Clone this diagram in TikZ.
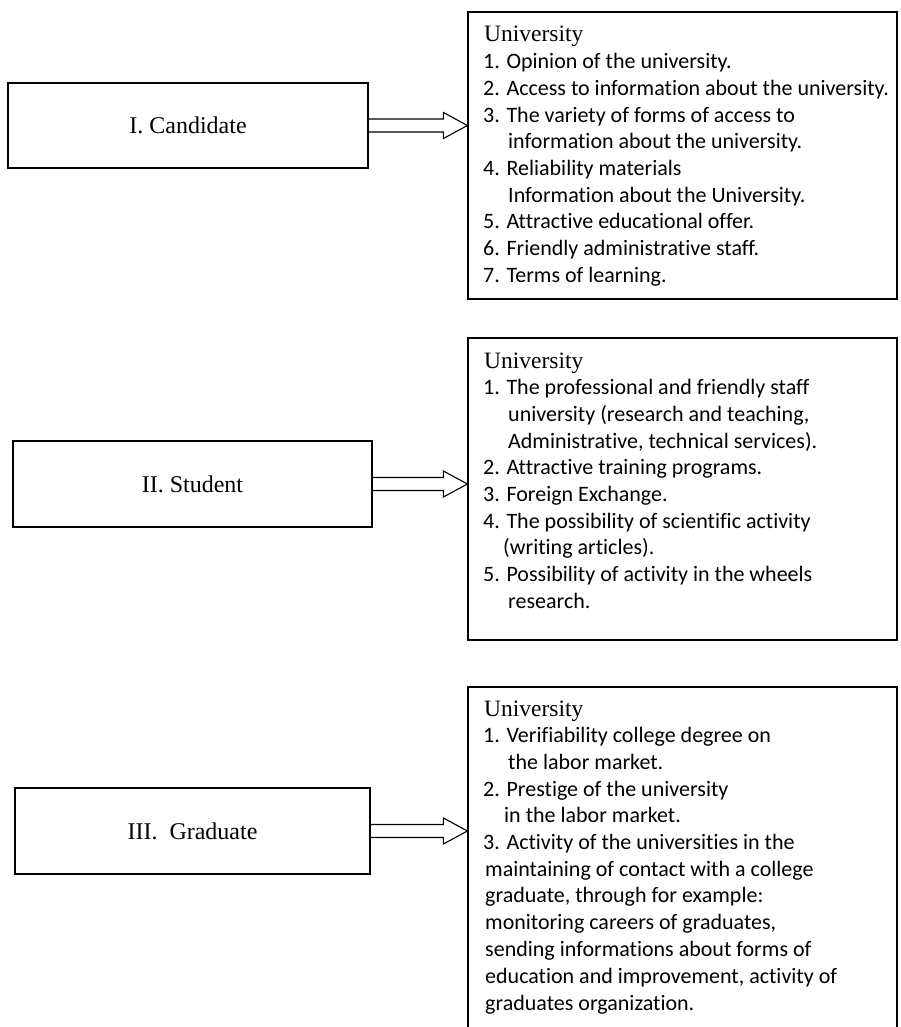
\documentclass[tikz,border=0pt]{standalone}
\usepackage{fontspec}
\setmainfont{Liberation Serif}
\newfontfamily\calibri[Ligatures=NoCommon]{Carlito}
\usetikzlibrary{calc}

\tikzset{
  stage/.style={draw, line width=1.2pt, inner sep=0pt,
                font=\fontsize{24}{28}\selectfont},
  frame/.style={draw, line width=1.2pt, inner sep=0pt},
  head/.style={anchor=base west, inner sep=0pt, font=\fontsize{23.5}{28}\selectfont},
  item/.style={anchor=base west, inner sep=0pt, font=\calibri\fontsize{22}{26}\selectfont},
}
% hollow block arrow from box #1 to box #2
\newcommand{\blockarrow}[2]{%
  \draw[line width=1.1pt, line join=miter]
    ($(#1.east)+(0,6.5)$) -- ($(#2.west |- #1.east)+(-24,6.5)$)
    -- ($(#2.west |- #1.east)+(-24,13)$) -- (#2.west |- #1.east)
    -- ($(#2.west |- #1.east)+(-24,-13)$) -- ($(#2.west |- #1.east)+(-24,-6.5)$)
    -- ($(#1.east)+(0,-6.5)$);}

\begin{document}
\begin{tikzpicture}[x=1pt, y=-1pt]
  \clip (0,0) rectangle (901,1027);
  % left column
  \node[stage, minimum width=360pt, minimum height=85pt] (cand) at (188,125.5){I. Candidate};
  \node[stage, minimum width=359pt, minimum height=86pt] (stud) at (192.5,484){II. Student};
  \node[stage, minimum width=355pt, minimum height=86pt] (grad) at (192.5,831){III.\ \ Graduate};
  % right column
  \node[frame, minimum width=429pt, minimum height=287pt] (univ1) at (682.5,155.5){};
  \node[frame, minimum width=429pt, minimum height=302pt] (univ2) at (682.5,489){};
  \node[frame, minimum width=429pt, minimum height=413pt] (univ3) at (682.5,893.5){};
  \blockarrow{cand}{univ1}
  \blockarrow{stud}{univ2}
  \blockarrow{grad}{univ3}
  % candidate
  \node[head] (h1)  at (484, 42.0){University};
  \node[item] (a1)  at (483, 68.7){1. Opinion of the university.};
  \node[item] (a2)  at (483, 95.4){2. Access to information about the university.};
  \node[item] (a3)  at (483,122.1){3. The variety of forms of access to};
  \node[item] (a3b) at (508,148.8){information about the university.};
  \node[item] (a4)  at (483,175.5){4. Reliability materials};
  \node[item] (a4b) at (508,202.2){Information about the University.};
  \node[item] (a5)  at (483,228.9){5. Attractive educational offer.};
  \node[item] (a6)  at (483,255.6){6. Friendly administrative staff.};
  \node[item] (a7)  at (483,282.3){7. Terms of learning.};
  % student
  \node[head] (h2)  at (484,368.0){University};
  \node[item] (b1)  at (483,394.7){1. The professional and friendly staff};
  \node[item] (b1b) at (508,421.4){university (research and teaching,};
  \node[item] (b1c) at (508,448.1){Administrative, technical services).};
  \node[item] (b2)  at (483,474.8){2. Attractive training programs.};
  \node[item] (b3)  at (483,501.5){3. Foreign Exchange.};
  \node[item] (b4)  at (483,528.2){4. The possibility of scientific activity};
  \node[item] (b4b) at (503,554.9){(writing articles).};
  \node[item] (b5)  at (483,581.6){5. Possibility of activity in the wheels};
  \node[item] (b5b) at (508,608.3){research.};
  % graduate
  \node[head] (h3)  at (484,716.0){University};
  \node[item] (c1)  at (483,742.7){1. Verifiability college degree on};
  \node[item] (c1b) at (508,769.4){the labor market.};
  \node[item] (c2)  at (483,796.1){2. Prestige of the university};
  \node[item] (c2b) at (504,822.8){in the labor market.};
  \node[item] (c3)  at (483,849.5){3. Activity of the universities in the};
  \node[item] (c3b) at (485,876.2){maintaining of contact with a college};
  \node[item] (c3c) at (485,902.9){graduate, through for example:};
  \node[item] (c3d) at (485,929.6){monitoring careers of graduates,};
  \node[item] (c3e) at (485,956.3){sending informations about forms of};
  \node[item] (c3f) at (485,983.0){education and improvement, activity of};
  \node[item] (c3g) at (485,1010.5){graduates organization.};
\end{tikzpicture}
\end{document}
